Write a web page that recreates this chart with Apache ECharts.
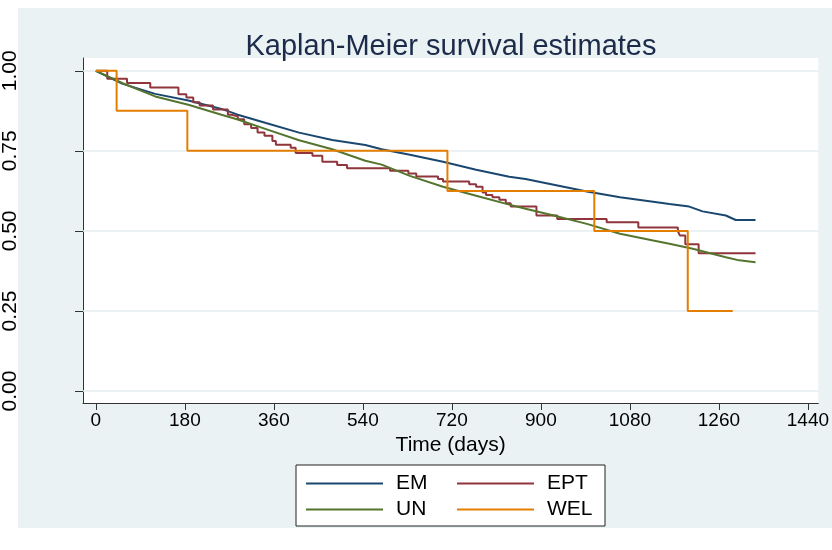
<!DOCTYPE html>
<html>
<head>
<meta charset="utf-8">
<script src="https://cdn.jsdelivr.net/npm/echarts@6/dist/echarts.min.js"></script>
<style>
html,body{margin:0;padding:0;background:#ffffff;}
#chart{width:832px;height:550px;}
</style>
</head>
<body>
<div id="chart"></div>
<script>
// ---- data ----
const xTicks = [0, 180, 360, 540, 720, 900, 1080, 1260, 1440];
const yTicks = [0, 0.25, 0.5, 0.75, 1];
const yTickLabels = ['0.00', '0.25', '0.50', '0.75', '1.00'];
const seriesNames = ['EM', 'EPT', 'UN', 'WEL'];

const emTime = [0, 53, 120, 187, 254, 287, 344, 411, 478, 545, 578, 635, 702, 769, 836, 869, 926, 993, 1060, 1127, 1160, 1200, 1227, 1274, 1294, 1334];
const emSurv = [1, 0.96, 0.928, 0.907, 0.881, 0.863, 0.837, 0.807, 0.784, 0.768, 0.755, 0.738, 0.716, 0.691, 0.669, 0.662, 0.644, 0.623, 0.605, 0.591, 0.584, 0.576, 0.561, 0.548, 0.534, 0.534];

const unTime = [0, 53, 120, 187, 254, 287, 344, 411, 478, 545, 578, 635, 702, 769, 836, 869, 926, 993, 1060, 1127, 1160, 1207, 1274, 1301, 1334];
const unSurv = [1, 0.962, 0.920, 0.894, 0.863, 0.848, 0.818, 0.783, 0.755, 0.719, 0.707, 0.672, 0.638, 0.610, 0.582, 0.569, 0.548, 0.522, 0.491, 0.470, 0.460, 0.444, 0.418, 0.408, 0.402];

const eptTime = [0, 23, 63, 110, 167, 183, 197, 210, 237, 267, 274, 287, 300, 314, 327, 341, 357, 364, 394, 404, 438, 458, 488, 508, 595, 632, 648, 692, 702, 755, 769, 782, 789, 802, 816, 829, 839, 891, 933, 1033, 1097, 1177, 1181, 1192, 1219, 1334];
const eptSurv = [1, 0.975, 0.962, 0.948, 0.927, 0.917, 0.902, 0.892, 0.879, 0.863, 0.858, 0.849, 0.833, 0.821, 0.807, 0.797, 0.781, 0.769, 0.760, 0.743, 0.735, 0.716, 0.706, 0.696, 0.688, 0.679, 0.670, 0.662, 0.654, 0.646, 0.638, 0.620, 0.612, 0.605, 0.597, 0.586, 0.576, 0.548, 0.537, 0.527, 0.511, 0.499, 0.486, 0.458, 0.430, 0.430];

const welTime = [0, 42, 185, 711, 1008, 1197, 1288];
const welSurv = [1, 0.875, 0.75, 0.625, 0.5, 0.25, 0.25];

// ---- build ----
const zip = (t, s) => t.map((v, i) => [v, s[i]]);
const FONT = "'Liberation Sans', Arial, sans-serif";
const colors = { EM: '#1a476f', EPT: '#90353b', UN: '#55752f', WEL: '#e37e00' };

const chart = echarts.init(document.getElementById('chart'), null, { renderer: 'canvas' });

function lineSeries(name, data, step) {
  return {
    name: name,
    type: 'line',
    data: data,
    step: step ? 'end' : false,
    symbol: 'none',
    z: 3,
    lineStyle: { color: colors[name], width: 2 },
    itemStyle: { color: colors[name] },
    emphasis: { disabled: true },
    animation: false
  };
}

function legendItem(name, left, top) {
  return {
    data: [name], left: left, top: top, z: 20, padding: 0,
    icon: 'rect', itemWidth: 77, itemHeight: 2,
    textStyle: { fontFamily: FONT, fontSize: 21, color: '#000', padding: [0, 0, 0, 8] },
    selectedMode: false
  };
}

const option = {
  backgroundColor: '#ffffff',
  animation: false,
  title: {
    text: 'Kaplan-Meier survival estimates',
    left: 446,
    top: 27,
    textAlign: 'center',
    textStyle: { fontFamily: FONT, fontSize: 29, fontWeight: 'normal', color: '#1c2b4a' }
  },
  graphic: [
    { type: 'rect', z: -100, shape: { x: 18, y: 8, width: 820, height: 520 }, style: { fill: '#eaf2f3' }, silent: true },
    { type: 'rect', z: 10, shape: { x: 296, y: 465, width: 309, height: 61 }, style: { fill: '#ffffff', stroke: '#222222', lineWidth: 1 }, silent: true }
  ],
  legend: [
    legendItem('EM', 306, 473),
    legendItem('EPT', 457, 473),
    legendItem('UN', 306, 499),
    legendItem('WEL', 457, 499)
  ],
  grid: {
    left: 79, right: 12, top: 58, bottom: 147,
    show: true, backgroundColor: '#ffffff', borderWidth: 0
  },
  xAxis: {
    type: 'value', min: -26, max: 1461,
    name: 'Time (days)', nameLocation: 'middle', nameGap: 23,
    nameTextStyle: { fontFamily: FONT, fontSize: 21, color: '#000' },
    axisLine: { show: true, onZero: false, lineStyle: { color: '#333', width: 1 } },
    axisTick: { show: true, customValues: xTicks, length: 7, lineStyle: { color: '#333' } },
    axisLabel: {
      customValues: xTicks, margin: 8, fontFamily: FONT, fontSize: 19, color: '#000',
      formatter: (v) => String(v)
    },
    splitLine: { show: false }
  },
  yAxis: {
    type: 'value', min: -0.0375, max: 1.04,
    axisLine: { show: true, onZero: false, lineStyle: { color: '#333', width: 1 } },
    axisTick: { show: true, customValues: yTicks, length: 8, lineStyle: { color: '#333' } },
    axisLabel: {
      customValues: yTicks, rotate: 90, margin: 62,
      formatter: (v) => yTickLabels[yTicks.indexOf(Math.round(v * 100) / 100)] || v.toFixed(2),
      fontFamily: FONT, fontSize: 21, color: '#000'
    },
    splitLine: { show: false }
  },
  series: [
    {
      name: 'grid', type: 'line', data: [], z: 1, symbol: 'none', silent: true,
      markLine: {
        z: 1, silent: true, symbol: ['none', 'none'], label: { show: false },
        lineStyle: { color: '#e6eef0', width: 1.5, type: 'solid' },
        emphasis: { disabled: true },
        data: yTicks.map(v => ({ yAxis: v }))
      }
    },
    lineSeries('EM', zip(emTime, emSurv), false),
    lineSeries('EPT', zip(eptTime, eptSurv), true),
    lineSeries('UN', zip(unTime, unSurv), false),
    lineSeries('WEL', zip(welTime, welSurv), true)
  ]
};
chart.setOption(option);
</script>
</body>
</html>
